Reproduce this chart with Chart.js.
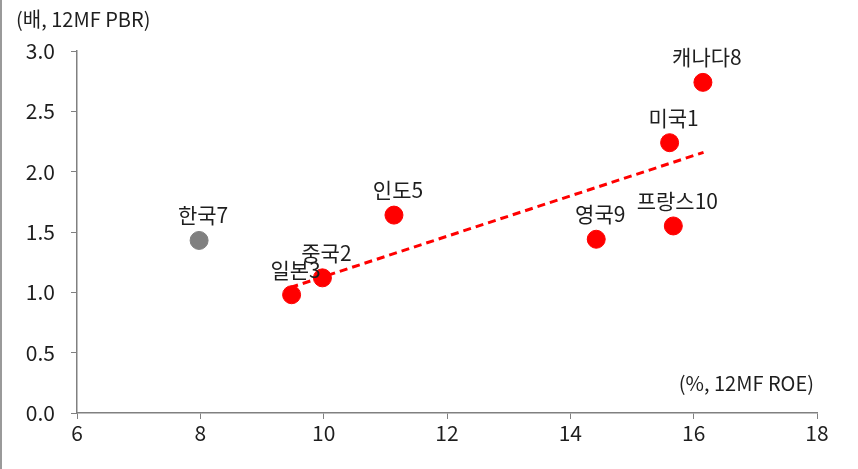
<!DOCTYPE html>
<html>
<head>
<meta charset="utf-8">
<script src="https://cdn.jsdelivr.net/npm/chart.js@4"></script>
<style>
    html, body { margin: 0; padding: 0; background: #fff; }
    #wrap { width: 858px; height: 469px; position: relative; box-sizing: border-box; border-left: 2px solid #9a9a9a; }
</style>
</head>
<body>
<div id="wrap"><canvas id="pbrChart" width="856" height="469"></canvas></div>
<script>
// data: ROE (x), PBR (y)
const countries = ['미국1', '중국2', '일본3', '인도5', '캐나다8', '영국9', '프랑스10'];
const roe = [15.61, 9.98, 9.48, 11.14, 16.15, 14.42, 15.67];
const pbr = [2.24, 1.12, 0.98, 1.64, 2.74, 1.44, 1.55];
const koreaLabel = ['한국7'];
const koreaRoe = [7.98];
const koreaPbr = [1.43];
// trend line ends
const trendRoe = [9.46, 16.16];
const trendPbr = [1.04, 2.16];
const xTicks = [6, 8, 10, 12, 14, 16, 18];
const yTicks = [0, 0.5, 1.0, 1.5, 2.0, 2.5, 3.0];

const FONT = "'Noto Sans CJK KR', 'Noto Sans', sans-serif";

document.addEventListener('DOMContentLoaded', () => {
    const ctx = document.getElementById('pbrChart').getContext('2d');

    // 라벨 + 축 제목 그리기
    const labelPlugin = {
        id: 'labelPlugin',
        afterDatasetsDraw(chart) {
            const c = chart.ctx;
            c.save();
            c.fillStyle = '#1e1e1e';
            c.font = '21px ' + FONT;
            c.textAlign = 'center';
            c.textBaseline = 'middle';
            [0, 1].forEach(di => {
                const ds = chart.data.datasets[di];
                chart.getDatasetMeta(di).data.forEach((pt, i) => {
                    c.fillText(ds.names[i], pt.x + 4, pt.y - 25);
                });
            });
            c.font = '20px ' + FONT;
            c.textAlign = 'left';
            c.fillText('(배, 12MF PBR)', 14, 19);
            c.textAlign = 'right';
            c.fillText('(%, 12MF ROE)', 812, 383);
            c.restore();
        }
    };

    new Chart(ctx, {
        type: 'scatter',
        data: {
            datasets: [{
                names: countries,
                data: roe.map((v, i) => ({ x: v, y: pbr[i] })),
                backgroundColor: '#ff0000',
                borderColor: '#ff0000',
                pointRadius: 9,
                order: 1
            }, {
                names: koreaLabel,
                data: koreaRoe.map((v, i) => ({ x: v, y: koreaPbr[i] })),
                backgroundColor: '#808080',
                borderColor: '#808080',
                pointRadius: 9,
                order: 1
            }, {
                type: 'line',
                data: trendRoe.map((v, i) => ({ x: v, y: trendPbr[i] })),
                borderColor: '#ff0000',
                borderWidth: 3,
                borderDash: [8, 5],
                pointRadius: 0,
                fill: false,
                order: 2
            }]
        },
        options: {
            responsive: false,
            animation: false,
            layout: { padding: { left: 0, top: 51, right: 41, bottom: 0 } },
            plugins: {
                legend: { display: false },
                tooltip: { enabled: false }
            },
            scales: {
                x: {
                    type: 'linear',
                    min: 6, max: 18,
                    afterBuildTicks: s => { s.ticks = xTicks.map(v => ({ value: v })); },
                    afterFit: s => { s.height = 56; },
                    grid: { drawOnChartArea: false, tickLength: 6, color: '#808080', tickColor: '#808080' },
                    border: { color: '#808080', width: 1.5 },
                    ticks: { color: '#1e1e1e', font: { family: FONT, size: 21 }, padding: 1 }
                },
                y: {
                    type: 'linear',
                    min: 0, max: 3,
                    afterBuildTicks: s => { s.ticks = yTicks.map(v => ({ value: v })); },
                    afterFit: s => { s.width = 75; },
                    grid: { drawOnChartArea: false, tickLength: 6, color: '#808080', tickColor: '#808080' },
                    border: { color: '#808080', width: 1.5 },
                    ticks: {
                        color: '#1e1e1e', font: { family: FONT, size: 21 }, padding: 16,
                        callback: v => v.toFixed(1)
                    }
                }
            }
        },
        plugins: [labelPlugin]
    });
});
</script>
</body>
</html>
